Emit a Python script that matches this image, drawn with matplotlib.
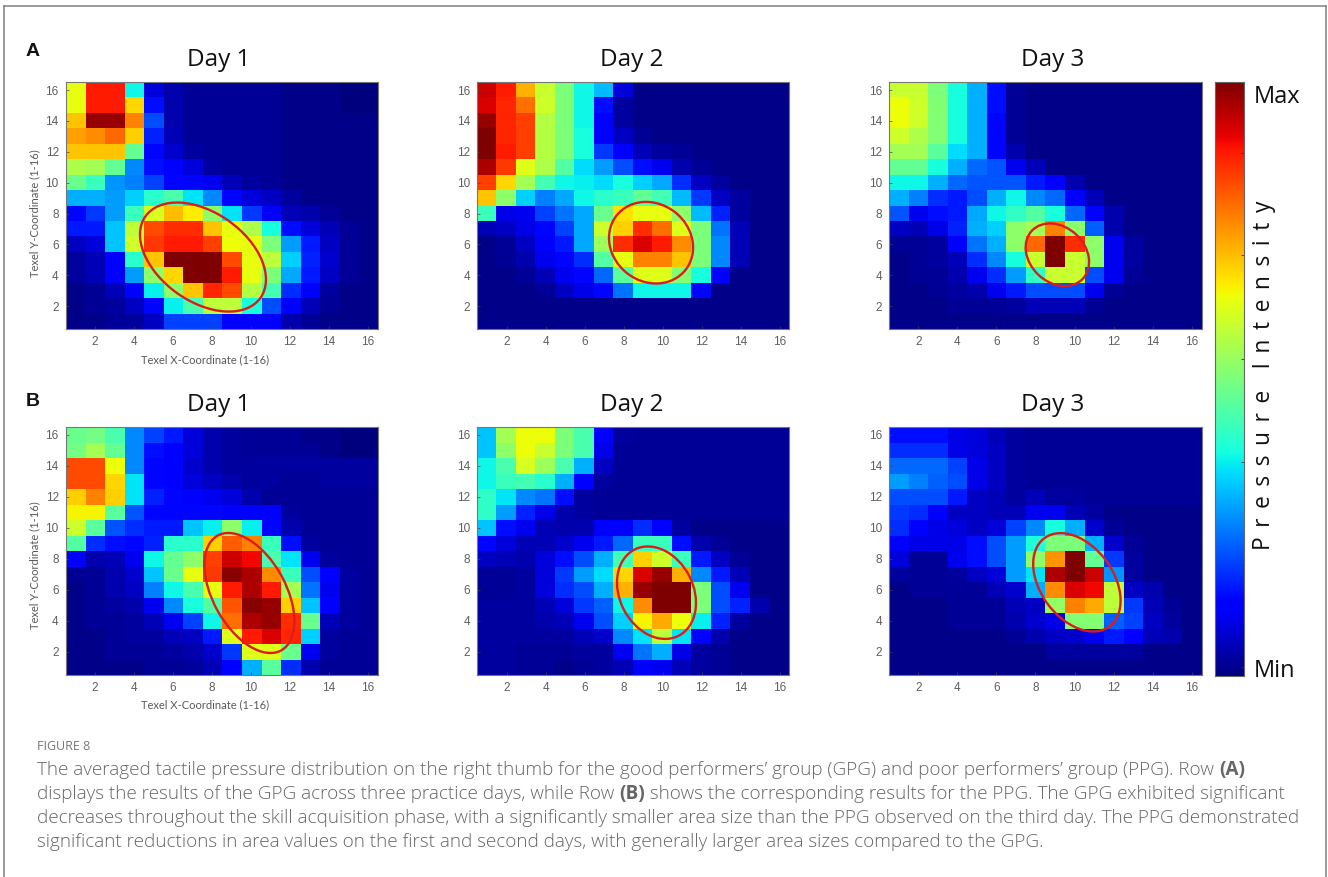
import numpy as np
import matplotlib
matplotlib.use("Agg")
import matplotlib.pyplot as plt
from matplotlib.patches import Ellipse
from matplotlib.transforms import Affine2D
from matplotlib.lines import Line2D

W, H = 1328, 877

def grid(rows):
    out = []
    for r in rows:
        r = list(r) + [r[-1]] * (16 - len(r))
        out.append(r)
    return np.array(out[::-1], dtype=float)

# pressure values (0-100), rows listed from y=16 down to y=1, columns x=1..16
gpg_day1 = grid([
 [63,88,88,37,8,4,2,2,2,2,2,1,1,1,0,0],
 [63,88,88,68,14,4,2,2,2,2,2,1,1,1,0,0],
 [70,98,98,77,20,4,2,2,2,2,2,1,1,1,1,1],
 [74,76,80,69,16,5,2,2,2,2,2,1,1,1,1,1],
 [70,70,70,47,13,7,3,2,2,2,2,1,1,1,1,1],
 [56,55,47,26,14,12,8,3,2,2,2,1,1,1,1,1],
 [48,42,27,25,19,13,13,10,5,3,2,1,1,1,1,1],
 [30,30,28,33,40,44,35,26,13,8,6,3,1,1,1,1],
 [13,18,28,42,61,71,66,52,35,18,11,5,4,2,1,1],
 [15,15,32,58,83,86,86,70,63,56,38,14,8,5,2,1],
 [6,8,32,60,85,88,88,84,64,63,50,28,15,6,2,1],
 [3,5,12,40,70,100,100,100,83,63,58,33,16,7,2,1],
 [3,5,12,28,52,68,100,100,88,63,50,29,15,6,2,1],
 [1,2,5,12,36,52,70,87,83,57,43,17,11,3,1,1],
 [1,2,3,6,13,36,44,58,58,38,20,12,5,2,1,1],
 [1,1,2,3,6,19,19,19,11,11,11,4,2,1,1,1],
])
gpg_day2 = grid([
 [93,88,72,59,50,37,31,8,1],
 [92,87,79,60,50,37,14,3,1],
 [98,87,84,57,50,37,12,3,1],
 [100,87,84,57,50,38,11,6,2,1],
 [100,88,84,57,50,38,18,12,5,3,2,1],
 [96,85,62,56,45,34,28,20,14,10,4,2,1],
 [84,68,55,43,37,36,34,38,33,29,17,6,3,1],
 [70,52,33,25,29,37,40,42,47,43,31,18,6,3,1,1],
 [42,9,10,19,24,29,48,67,63,63,52,31,16,3,1],
 [5,6,9,13,19,29,60,69,86,79,62,50,24,5,1],
 [1,2,6,11,15,29,54,86,92,88,76,50,26,5,1],
 [1,2,4,10,13,17,45,63,77,77,70,50,26,5,1],
 [1,1,2,5,10,13,23,46,62,62,51,38,11,1,1],
 [1,1,1,2,6,9,13,24,37,37,37,13,1,1],
 [1,1,1,1,1,1,1,1,1,1,1,1,1,1],
 [1,1,1,1,1,1,1,1,1,1,1,1,1,1],
])
gpg_day3 = grid([
 [59,59,50,38,30,14,2,1],
 [64,60,51,38,30,14,2,1],
 [64,60,51,38,30,13,2,1],
 [60,56,51,38,30,13,2,1],
 [55,55,46,34,30,13,4,1],
 [47,47,38,30,23,21,10,5,1],
 [37,37,30,23,21,21,21,15,11,4,1],
 [30,25,17,15,20,30,37,26,23,11,5,1],
 [21,10,14,15,29,37,41,45,38,23,11,4,1],
 [6,5,9,16,30,33,52,55,77,52,22,4,1],
 [2,2,3,11,24,30,52,80,100,86,52,10,3,1],
 [1,2,3,5,17,26,38,59,100,59,52,10,3,1],
 [1,2,2,4,10,17,28,41,59,59,20,10,2,1],
 [1,1,2,3,4,10,15,20,20,20,10,2,1],
 [1,1,1,2,2,2,3,5,5,5,2,1],
 [1,1,1,1,1,1,1,1,1,1,1,1,1],
])
ppg_day1 = grid([
 [48,49,44,26,19,15,8,4,3,2,2,2,1,1,0,0],
 [49,55,47,26,14,11,8,4,3,2,2,2,2,1,0,0],
 [83,83,64,26,13,11,7,4,3,3,3,3,3,3,3,3],
 [83,83,68,35,13,11,8,6,4,3,3,2,2,3,3,3],
 [69,77,69,35,16,13,11,10,8,4,2,2,2,2,2,2],
 [65,65,46,21,13,13,13,13,12,11,11,3,2,2,2,2],
 [60,46,21,17,15,15,32,36,52,36,13,4,2,2,2,2],
 [45,17,14,13,16,40,40,69,81,77,42,14,3,2,2,2],
 [12,4,5,10,37,47,52,84,93,90,44,35,10,3,2,2],
 [2,2,4,7,32,48,63,85,99,96,76,42,20,11,3,2],
 [1,2,4,6,25,37,44,63,88,96,88,55,24,10,3,2],
 [1,2,3,4,10,26,38,45,82,99,98,69,32,12,3,2],
 [1,2,2,3,5,10,19,37,79,96,98,86,48,5,3,2],
 [1,1,2,3,3,5,6,15,62,88,92,87,33,3,2,2],
 [1,1,2,2,2,3,4,7,18,62,62,48,10,3,2,2],
 [1,1,1,1,2,2,3,5,11,30,46,17,4,2,2,2],
])
ppg_day2 = grid([
 [32,55,64,64,50,44,11,3,2],
 [32,52,64,59,50,44,9,2,2],
 [37,44,61,54,44,30,6,2,2],
 [37,42,43,40,30,11,3,2,2],
 [41,35,26,24,14,3,2,2,2],
 [41,28,16,9,4,3,2,2,2],
 [32,14,10,5,4,4,11,11,17,11,3,1],
 [13,8,5,5,7,10,15,23,42,42,14,4,2,1],
 [6,5,4,8,14,20,30,43,69,60,42,15,6,2,1],
 [2,2,3,8,18,28,34,68,92,98,72,26,15,5,1],
 [2,2,3,8,17,20,30,72,98,100,100,50,20,10,1],
 [3,3,3,5,8,18,22,37,76,100,100,50,20,16,4,1],
 [3,3,3,4,5,10,20,33,65,73,64,36,16,3,1],
 [3,3,3,3,3,5,7,26,35,58,35,12,4,1],
 [3,3,2,2,2,3,3,10,24,30,9,3,2,1],
 [3,3,2,2,1,2,3,5,11,10,5,3,2,1],
])
ppg_day3 = grid([
 [14,14,14,9,8,5,3,2],
 [17,17,17,9,8,6,3,2],
 [23,23,23,19,9,6,3,2],
 [28,25,22,20,9,6,3,2],
 [20,20,20,15,6,5,3,5,3,3,2],
 [18,17,11,6,6,5,5,10,10,5,3,1],
 [17,12,9,8,6,8,19,26,38,30,7,2,1],
 [12,9,9,9,14,20,28,39,50,50,30,7,2,1],
 [8,2,2,10,14,20,28,52,75,100,47,18,3,1],
 [3,2,2,3,6,8,28,35,96,100,93,27,3,1],
 [1,2,2,2,2,5,7,30,76,92,90,58,6,4,1],
 [1,1,1,2,2,2,5,6,53,77,73,58,18,5,2,1],
 [1,1,1,2,2,2,4,7,9,51,51,22,19,6,3,1],
 [1,1,1,1,1,1,2,4,6,7,10,15,11,5,4,1],
 [1,1,1,1,1,1,1,1,3,3,3,3,3,1,1,1],
 [1,1,1,1,1,1,1,1,1,1,1,1,1,1,1,1],
])

panel_titles = ["Day 1", "Day 2", "Day 3"]
row_labels = ["A", "B"]
tick_values = [2, 4, 6, 8, 10, 12, 14, 16]
x_axis_label = "Texel X-Coordinate (1-16)"
y_axis_label = "Texel Y-Coordinate (1-16)"
colorbar_label = "P\u2009 r\u2009 e\u2009 s\u2009 s\u2009 u\u2009 r\u2009 e\u2009   I\u2009 n\u2009 t\u2009 e\u2009 n\u2009 s\u2009 i\u2009 t\u2009 y"
colorbar_ends = ["Max", "Min"]

panels = [[gpg_day1, gpg_day2, gpg_day3], [ppg_day1, ppg_day2, ppg_day3]]
# ellipses: centre x, centre y (data), semi-major px, semi-minor px, angle deg
ellipses = [[(7.54, 5.18, 70.5, 44.4, -35.3), (9.41, 6.11, 43.9, 38.8, -38), (9.12, 5.33, 35, 27.6, -43.4)],
            [(9.92, 5.79, 65.6, 36.4, -61), (9.69, 5.81, 48.4, 36.8, -62.9), (10.12, 6.48, 54.8, 36.4, -53.8)]]

plt.rcParams['font.family'] = ['Open Sans', 'DejaVu Sans']
fig = plt.figure(figsize=(W / 100, H / 100), dpi=100, facecolor='white')

def add_px_axes(x0, y0, x1, y1, **kw):
    return fig.add_axes([x0 / W, 1 - y1 / H, (x1 - x0) / W, (y1 - y0) / H], **kw)

def ftext(x, y, s, **kw):
    return fig.text(x / W, 1 - y / H, s, **kw)

col_x = [(65.7, 377.7), (477.3, 789.3), (889, 1201.5)]
row_y = [(82.3, 329.3), (427, 675)]
title_y = [60, 405]
title_x = [218.5, 631.5, 1052.5]
ylabel_y = [213, 565]
xlabel_y = [360, 705]

for r in range(2):
    for c in range(3):
        x0, x1 = col_x[c]
        y0, y1 = row_y[r]
        ax = add_px_axes(x0, y0, x1, y1)
        ax.imshow(panels[r][c], cmap='jet', vmin=0, vmax=100, origin='lower',
                  extent=(0.5, 16.5, 0.5, 16.5), aspect='auto', interpolation='nearest')
        ax.set_xticks(tick_values)
        ax.set_yticks(tick_values)
        ax.tick_params(direction='in', length=2, width=0.5, color='#444444',
                       labelcolor='#5f5f5f', labelsize=8.5, pad=5)
        for lab in ax.get_xticklabels() + ax.get_yticklabels():
            lab.set_family(['Liberation Sans'])
        for s in ax.spines.values():
            s.set_color('#777777')
            s.set_linewidth(0.8)
        sx = (x1 - x0) / 16
        sy = (y1 - y0) / 16
        cx, cy, a, b, ang = ellipses[r][c]
        tr = Affine2D().scale(1 / sx, 1 / sy).translate(cx, cy) + ax.transData
        ax.add_patch(Ellipse((0, 0), 2 * a, 2 * b, angle=ang, transform=tr, fill=False,
                             edgecolor='#dc1c1c', linewidth=1.7, zorder=5))
        ftext(title_x[c], title_y[r], panel_titles[c], fontsize=17.5, color='#111111',
              ha='center', va='center')
        if c == 0:
            ftext(205, xlabel_y[r], x_axis_label, fontsize=8.0, color='#5a5a5a',
                  ha='center', va='center', family=['Lato'])
            ftext(35, ylabel_y[r], y_axis_label, fontsize=8.0, color='#5a5a5a', rotation=90,
                  ha='center', va='center', family=['Lato'])

for lab, y in zip(row_labels, (52, 402)):
    ftext(33, y, lab, fontsize=14, fontweight='bold', color='#111111', ha='center', va='center',
          family=['Liberation Sans'])

# colorbar
tick_fracs = [0.015, 0.187, 0.36, 0.534, 0.709, 0.881]
cax = add_px_axes(1215.3, 82, 1243.7, 676)
gradient = np.linspace(0, 1, 256).reshape(-1, 1)
cax.imshow(gradient, cmap='jet', origin='lower', aspect='auto', extent=(0, 1, 0, 1))
cax.set_xticks([])
cax.yaxis.tick_right()
cax.set_yticks(tick_fracs)
cax.set_yticklabels([])
cax.tick_params(direction='in', length=2, width=0.6, color='#333333')
for s in cax.spines.values():
    s.set_color('#666666')
    s.set_linewidth(0.8)
ftext(1254, 97, colorbar_ends[0], fontsize=17, color='#111111', ha='left', va='center')
ftext(1254, 671, colorbar_ends[1], fontsize=17, color='#111111', ha='left', va='center')
ftext(1264, 375, colorbar_label, fontsize=16.3, color='#111111', rotation=90, ha='center', va='center')

# frame
frame_c = '#808080'
for xs, ys in [((4, 4), (877, 6)), ((4, 1326), (6, 6)), ((1326, 1326), (6, 877))]:
    fig.add_artist(Line2D([v / W for v in xs], [1 - v / H for v in ys], color=frame_c, linewidth=1.1))

# caption
cap_c = '#666666'
ftext(37, 746, "FIGURE 8", fontsize=9, color='#777777', va='center', ha='left')
caption = [
    [("The averaged tactile pressure distribution on the right thumb for the good performers\u2019 group (GPG) and poor performers\u2019 group (PPG). Row ", False), ("(A)", True)],
    [("displays the results of the GPG across three practice days, while Row ", False), ("(B)", True), (" shows the corresponding results for the PPG. The GPG exhibited significant", False)],
    [("decreases throughout the skill acquisition phase, with a significantly smaller area size than the PPG observed on the third day. The PPG demonstrated", False)],
    [("significant reductions in area values on the first and second days, with generally larger area sizes compared to the GPG.", False)],
]
cap_y = [770, 794, 818, 842]
renderer = fig.canvas.get_renderer()
for parts, y in zip(caption, cap_y):
    x = 37
    for s, bold in parts:
        t = ftext(x, y, s, fontsize=13.55, color=cap_c, va='center', ha='left',
                  fontweight='bold' if bold else 'light', parse_math=False)
        x = t.get_window_extent(renderer).x1

fig.savefig('out.png', dpi=100, facecolor='white')
